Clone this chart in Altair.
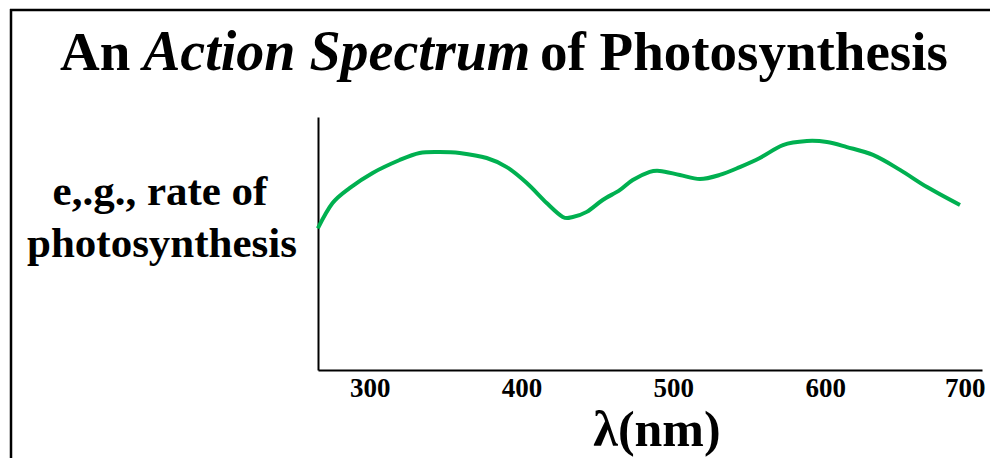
import altair as alt
import pandas as pd

# Wavelength (nm) and relative rate (0-100)
wavelength = [265.9, 275.6, 286.8, 302.0, 319.8, 332.9, 346.1, 359.3, 377.1, 390.3,
              403.5, 416.6, 427.2, 433.8, 443.0, 453.5, 464.7, 473.3, 484.5, 491.1,
              504.3, 517.5, 530.6, 543.8, 557.0, 572.2, 588.0, 601.2, 614.3, 631.5,
              649.3, 667.1, 688.8]
rate = [56.0, 66.0, 71.9, 77.9, 83.0, 85.8, 86.2, 85.8, 83.8, 80.2,
        73.9, 66.0, 60.5, 60.5, 62.5, 67.2, 71.1, 75.1, 78.3, 78.7,
        77.1, 75.5, 77.1, 80.2, 83.8, 88.9, 90.5, 90.1, 88.1, 85.0,
        79.1, 72.3, 65.2]
tick_values = [300, 400, 500, 600, 700]

title_parts = ["An", "Action Spectrum", "of Photosynthesis"]
ylabel_lines = ["e,.g., rate of", "photosynthesis"]
xlabel = "λ(nm)"

df = pd.DataFrame({"wl": wavelength, "rate": rate})
FONT = "Liberation Serif"
OX, OY = 318, 117  # plot origin on page

base = alt.Chart(df)

curve = base.mark_line(color="#00B050", strokeWidth=4, interpolate="cardinal").encode(
    x=alt.X("wl:Q", scale=alt.Scale(domain=[266, 703.3], nice=False, zero=False),
            axis=alt.Axis(values=tick_values, title=None, ticks=False, grid=False,
                          labelFont=FONT, labelFontWeight="bold", labelFontSize=27,
                          labelColor="black", labelPadding=5, labelFlush=10,
                          labelFlushOffset=8,
                          labelOverlap=False, domainColor="black", domainWidth=2,
                          format="d")),
    y=alt.Y("rate:Q", scale=alt.Scale(domain=[0, 100], nice=False),
            axis=alt.Axis(labels=False, ticks=False, grid=False, title=None,
                          domainColor="black", domainWidth=2)),
)

def txt(s, x, y, size, style="normal", align="left"):
    return alt.Chart(pd.DataFrame({"t": [s]})).mark_text(
        font=FONT, fontWeight="bold", fontStyle=style, fontSize=size,
        align=align, baseline="alphabetic", color="black"
    ).encode(x=alt.value(x - OX), y=alt.value(y - OY), text="t:N")

one = pd.DataFrame({"a": [0]})
frame_top = alt.Chart(one).mark_rule(color="black", strokeWidth=2.5).encode(
    x=alt.value(10 - OX), x2=alt.value(1100 - OX), y=alt.value(10 - OY))
frame_left = alt.Chart(one).mark_rule(color="black", strokeWidth=2.5).encode(
    x=alt.value(11 - OX), y=alt.value(9 - OY), y2=alt.value(700 - OY))

layers = [
    frame_top,
    frame_left,
    curve,
    txt(title_parts[0], 60, 70, 55),
    txt(title_parts[1], 143, 70, 56, style="italic"),
    txt(title_parts[2], 540, 70, 55),
    txt(ylabel_lines[0], 160, 205, 43, align="center"),
    txt(ylabel_lines[1], 162, 257, 43, align="center"),
    txt(xlabel, 657, 446, 50, align="center"),
]

chart = alt.layer(*layers).properties(
    width=664, height=253,
    background="white",
    autosize=alt.AutoSizeParams(type="none"),
    padding={"left": 310, "top": 109, "right": 8, "bottom": 88},
).configure_view(strokeWidth=0, stroke="transparent")

chart.save("out.html", embed_options={"renderer": "svg", "actions": False})
